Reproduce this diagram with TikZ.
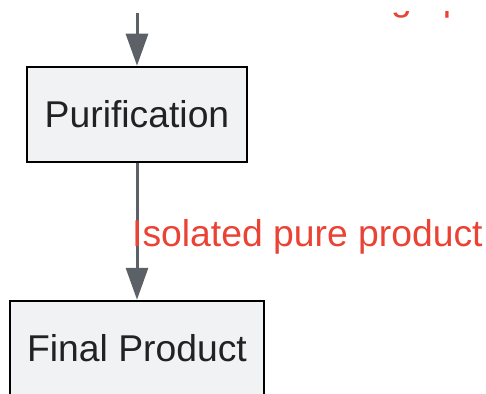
\documentclass[tikz,border=0pt]{standalone}
\usepackage{fontspec}
\setmainfont{Liberation Sans}
\usepackage{tikz}
\usetikzlibrary{arrows.meta}
\newcommand{\defaultboxheight}{95pt}
\newcommand{\boxheight}{\defaultboxheight}
\definecolor{boxfill}{HTML}{F1F2F4}
\definecolor{boxtext}{HTML}{222222}
\definecolor{flowgray}{HTML}{5C6067}
\definecolor{labelred}{HTML}{EA4335}
\tikzstyle{procbox}=[draw=black, line width=2.5pt, fill=boxfill, text=boxtext, inner sep=0,
                     minimum height=\boxheight, font=\fontsize{37.3}{44}\selectfont]
\tikzstyle{flowline}=[draw=flowgray, line width=3pt, -{Triangle[length=32pt, width=22pt]}]
\tikzstyle{edgelabel}=[text=labelred, inner sep=0, font=\fontsize{37.3}{44}\selectfont]
\tikzstyle{flowchart}=[x=1pt, y=-1pt,
                       % Keep the frame of the cropped picture.
                       execute at begin picture={\useasboundingbox (0, 0) rectangle (486, 393);
                                                 \clip (0, 12) rectangle (486, 393);}]

\begin{document}
\begin{tikzpicture}[flowchart]
        \node[edgelabel, anchor=base east] (Lin) at (464, 10.5) {Crude mixture after heating up};
        \coordinate (In) at (137, 13);
        \node[procbox, minimum width=220pt] (Pur) at (137, 114.5) {Purification};
        \node[procbox, minimum width=254pt] (Fin) at (137, 348.5) {Final Product};
        \draw[flowline] (In) -- (Pur);
        \draw[flowline] (Pur) -- (Fin);
        \node[edgelabel, anchor=base west] (Lout) at (132, 246) {Isolated pure product};
    \end{tikzpicture}
\end{document}
